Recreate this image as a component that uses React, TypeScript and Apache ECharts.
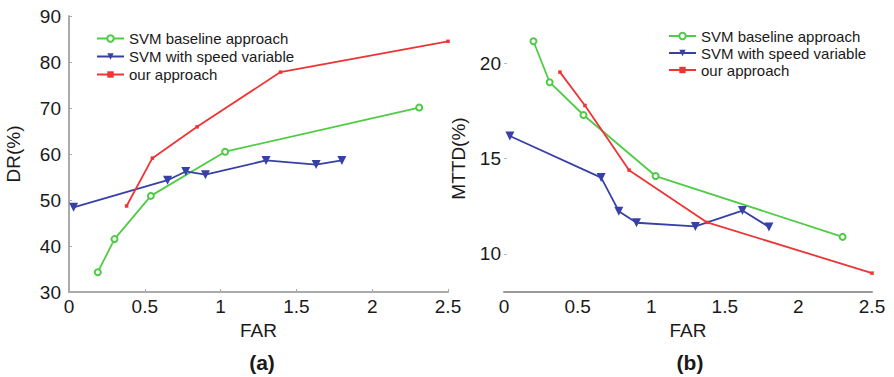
import React, { useEffect, useRef } from "react";
import * as echarts from "echarts";

// ---- Data (a): DR vs FAR ----
const baseFarA = [0.19, 0.3, 0.54, 1.03, 2.31];
const baseDrA = [34.3, 41.5, 50.9, 60.5, 70.1];
const speedFarA = [0.03, 0.65, 0.77, 0.9, 1.3, 1.63, 1.8];
const speedDrA = [48.4, 54.3, 56.2, 55.5, 58.6, 57.7, 58.6];
const oursFarA = [0.38, 0.55, 0.845, 1.395, 2.5];
const oursDrA = [48.7, 59.1, 65.9, 77.8, 84.5];

// ---- Data (b): MTTD vs FAR ----
const baseFarB = [0.2, 0.31, 0.54, 1.03, 2.3];
const baseMttdB = [21.15, 19.0, 17.28, 14.08, 10.89];
const speedFarB = [0.04, 0.66, 0.78, 0.9, 1.3, 1.62, 1.8];
const speedMttdB = [16.18, 14.0, 12.24, 11.63, 11.44, 12.27, 11.41];
const oursFarB = [0.38, 0.55, 0.85, 1.38, 2.5];
const oursMttdB = [19.53, 17.78, 14.39, 11.65, 8.99];

const mttdTicks = [10, 15, 20];

const names = ["SVM baseline approach", "SVM with speed variable", "our approach"];
const panelLabels = ["(a)", "(b)"];

const GREEN = "#4fcb46";
const BLUE = "#3740a6";
const RED = "#ee3434";
const FONT = "Liberation Sans, Arial, Helvetica, sans-serif";

const zip = (xs: number[], ys: number[]) => xs.map((x, i) => [x, ys[i]]);

export default function App() {
  const ref = useRef<HTMLDivElement>(null);
  useEffect(() => {
    if (!ref.current) return;
    const chart = echarts.init(ref.current, undefined, { renderer: "svg" });

    const seriesStyle = (idx: number) => {
      if (idx === 0)
        return {
          symbol: "emptyCircle",
          symbolSize: 6,
          lineStyle: { color: GREEN, width: 1.8 },
          itemStyle: { color: GREEN, borderColor: GREEN, borderWidth: 1.5 },
        };
      if (idx === 1)
        return {
          symbol: "triangle",
          symbolRotate: 180,
          symbolSize: 9,
          lineStyle: { color: BLUE, width: 1.8 },
          itemStyle: { color: BLUE },
        };
      return {
        symbol: "rect",
        symbolSize: 3.5,
        lineStyle: { color: RED, width: 1.8 },
        itemStyle: { color: RED },
      };
    };

    const dataA = [zip(baseFarA, baseDrA), zip(speedFarA, speedDrA), zip(oursFarA, oursDrA)];
    const dataB = [zip(baseFarB, baseMttdB), zip(speedFarB, speedMttdB), zip(oursFarB, oursMttdB)];

    const series: any[] = [];
    dataA.forEach((d, i) =>
      series.push({
        type: "line",
        name: names[i],
        xAxisIndex: 0,
        yAxisIndex: 0,
        data: d,
        clip: false,
        ...seriesStyle(i),
      })
    );
    dataB.forEach((d, i) =>
      series.push({
        type: "line",
        name: names[i],
        xAxisIndex: 1,
        yAxisIndex: 1,
        data: d,
        clip: false,
        ...seriesStyle(i),
      })
    );

    const labelStyle = { color: "#1a1a1a", fontSize: 19, fontFamily: FONT };
    const nameStyle = { color: "#1a1a1a", fontSize: 19, fontFamily: FONT };

    const legendBase = {
      orient: "vertical",
      data: names,
      itemWidth: 27,
      itemHeight: 8,
      itemGap: 3,
      textStyle: { fontSize: 15, fontFamily: FONT, color: "#1a1a1a", lineHeight: 15 },
      selectedMode: false,
      padding: 0,
    };

    chart.setOption({
      animation: false,
      backgroundColor: "#ffffff",
      grid: [
        { left: 69, top: 16, width: 379, height: 276 },
        { left: 504, top: 25, width: 368, height: 267 },
      ],
      xAxis: [
        {
          gridIndex: 0,
          type: "value",
          min: 0,
          max: 2.5,
          interval: 0.5,
          name: "FAR",
          nameLocation: "middle",
          nameGap: 23,
          nameTextStyle: nameStyle,
          axisLine: { show: true, lineStyle: { color: "#aaaaaa", width: 2 } },
          axisTick: { show: true, inside: true, length: 3, lineStyle: { color: "#aaaaaa" } },
          axisLabel: { ...labelStyle, margin: 5 },
          splitLine: { show: false },
        },
        {
          gridIndex: 1,
          type: "value",
          min: 0,
          max: 2.5,
          interval: 0.5,
          name: "FAR",
          nameLocation: "middle",
          nameGap: 23,
          nameTextStyle: nameStyle,
          axisLine: { show: true, lineStyle: { color: "#999999", width: 2 } },
          axisTick: { show: false },
          axisLabel: { ...labelStyle, margin: 5 },
          splitLine: { show: false },
        },
      ],
      yAxis: [
        {
          gridIndex: 0,
          type: "value",
          min: 30,
          max: 90,
          interval: 10,
          name: "DR(%)",
          nameLocation: "middle",
          nameGap: 46,
          nameTextStyle: nameStyle,
          axisLine: { show: true, lineStyle: { color: "#aaaaaa", width: 2 } },
          axisTick: { show: true, inside: true, length: 3, lineStyle: { color: "#aaaaaa" } },
          axisLabel: { ...labelStyle, margin: 8 },
          splitLine: { show: false },
        },
        {
          gridIndex: 1,
          type: "value",
          min: 8,
          max: 22,
          name: "MTTD(%)",
          nameLocation: "middle",
          nameGap: 36,
          nameTextStyle: nameStyle,
          axisLine: { show: false },
          axisTick: {
            show: true,
            inside: true,
            length: 3,
            customValues: mttdTicks,
            lineStyle: { color: "#bbbbbb" },
          },
          axisLabel: { ...labelStyle, margin: 3, customValues: mttdTicks },
          splitLine: { show: false },
        },
      ],
      legend: [
        { ...legendBase, left: 96, top: 31 },
        { ...legendBase, left: 668, top: 28.5, itemGap: 2 },
      ],
      graphic: [
        {
          type: "text",
          x: 262,
          y: 362,
          style: {
            text: panelLabels[0],
            align: "center",
            verticalAlign: "middle",
            fontSize: 21,
            fontWeight: "bold",
            fontFamily: FONT,
            fill: "#1a1a1a",
          },
        },
        {
          type: "text",
          x: 690,
          y: 362,
          style: {
            text: panelLabels[1],
            align: "center",
            verticalAlign: "middle",
            fontSize: 21,
            fontWeight: "bold",
            fontFamily: FONT,
            fill: "#1a1a1a",
          },
        },
      ],
      series,
    });

    return () => chart.dispose();
  }, []);

  return (
    <div
      ref={ref}
      style={{ position: "absolute", left: 0, top: 0, width: 894, height: 377 }}
    />
  );
}
